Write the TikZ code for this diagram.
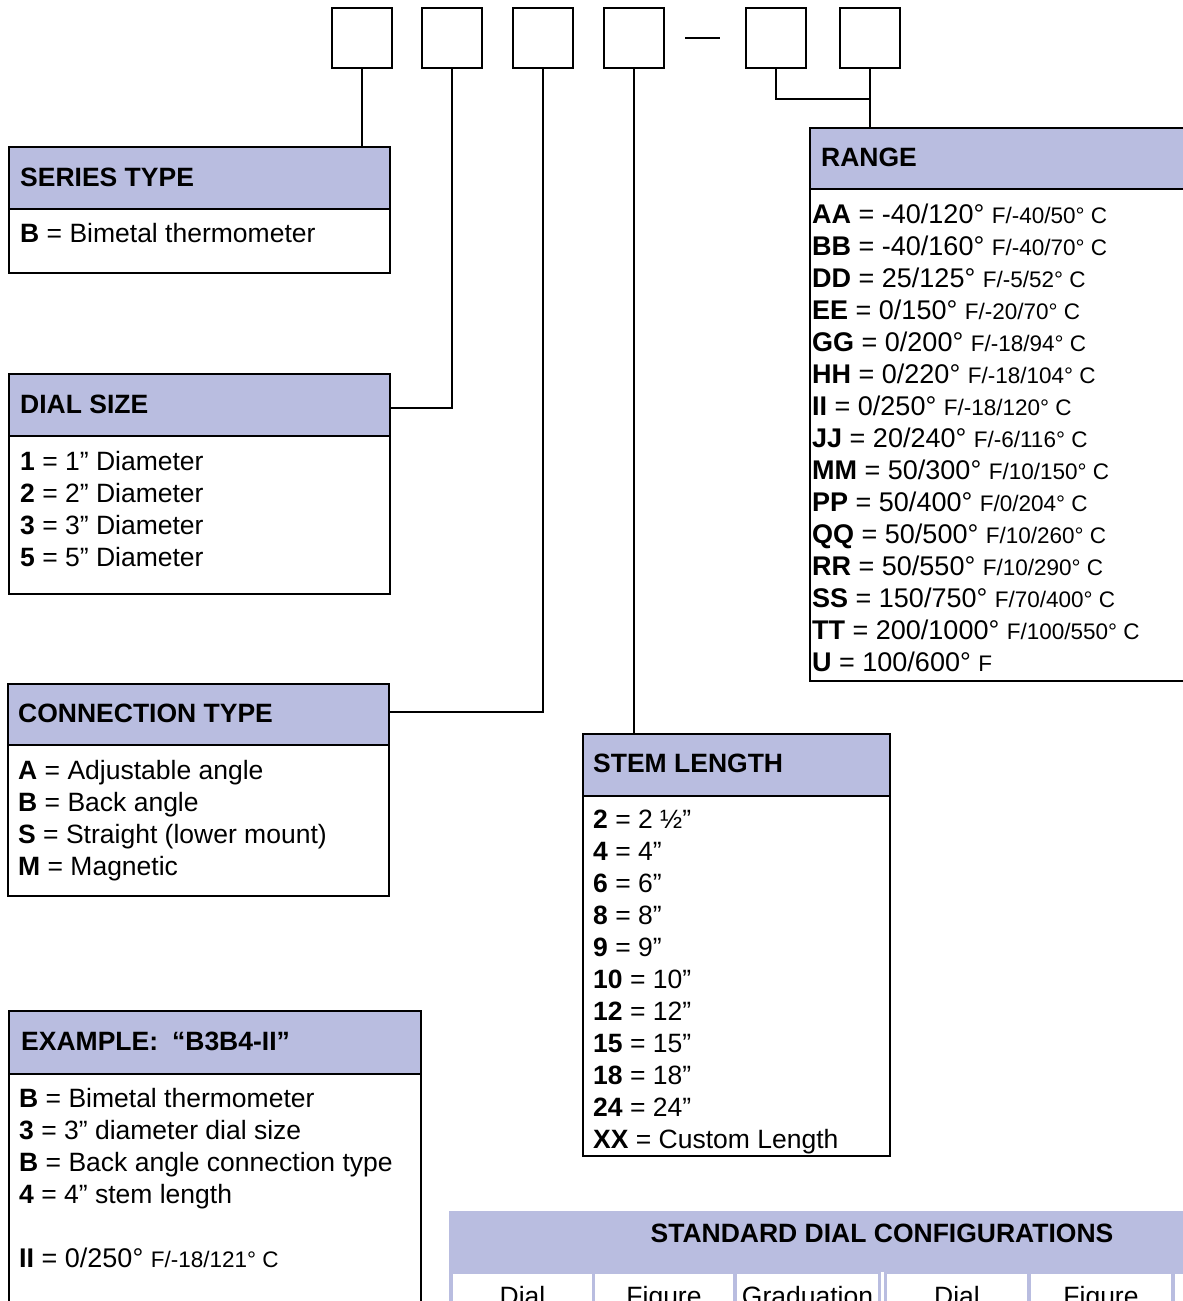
\documentclass[tikz,border=0pt]{standalone}
\usepackage{fontspec}
\setmainfont{Liberation Sans}
\usetikzlibrary{calc}
\definecolor{hdrblue}{RGB}{185,189,224}
\newcommand\rsm[1]{{\fontsize{22.5}{22.5}\selectfont #1}}
\begin{document}
\begin{tikzpicture}[x=1pt,y=-1pt,
  hdr/.style={draw=black, line width=2.4pt, fill=hdrblue, anchor=north west, inner sep=0pt, outer sep=0pt},
  bodybox/.style={draw=black, line width=2.4pt, fill=white, anchor=north west, inner sep=0pt, outer sep=0pt},
  sq/.style={draw=black, line width=2.4pt, minimum width=60pt, minimum height=60pt, inner sep=0pt, outer sep=0pt, anchor=north west},
  cellbox/.style={fill=white, anchor=north west, inner sep=0pt, outer sep=0pt, minimum height=40pt},
  link/.style={draw=black, line width=2pt},
  ttl/.style={anchor=base west, inner sep=0pt, font=\fontsize{26.5}{26.5}\selectfont\bfseries},
  txt/.style={anchor=base west, inner sep=0pt, font=\fontsize{26.5}{26.5}\selectfont},
  rtxt/.style={anchor=base west, inner sep=0pt, font=\fontsize{27}{27}\selectfont},
]
\useasboundingbox (0,0) rectangle (1183,1301);
\clip (0,0) rectangle (1183,1301);

% code squares
\node[sq] (b1) at (332,8) {};
\node[sq] (b2) at (422,8) {};
\node[sq] (b3) at (513,8) {};
\node[sq] (b4) at (604,8) {};
\node[sq] (b5) at (746,8) {};
\node[sq] (b6) at (840,8) {};
\draw[line width=2pt] ($(b4.east)+(21,0)$) -- ($(b5.west)+(-26,0)$);

% SERIES TYPE
\node[bodybox, minimum width=381pt, minimum height=64pt] (stb) at (9,209) {};
\node[hdr, minimum width=381pt, minimum height=62pt] (sth) at (9,147) {};
\node[ttl] (stt) at (20,186) {SERIES TYPE};
\node[txt] (st1) at (20,242) {\textbf{B} = Bimetal thermometer};

% DIAL SIZE
\node[bodybox, minimum width=381pt, minimum height=158pt] (dsb) at (9,436) {};
\node[hdr, minimum width=381pt, minimum height=62pt] (dsh) at (9,374) {};
\node[ttl] (dst) at (20,413) {DIAL SIZE};
\node[txt] (ds1) at (20,470) {\textbf{1} = 1” Diameter};
\node[txt] (ds2) at (20,502) {\textbf{2} = 2” Diameter};
\node[txt] (ds3) at (20,534) {\textbf{3} = 3” Diameter};
\node[txt] (ds4) at (20,566) {\textbf{5} = 5” Diameter};

% CONNECTION TYPE
\node[bodybox, minimum width=381pt, minimum height=151pt] (ctb) at (8,745) {};
\node[hdr, minimum width=381pt, minimum height=61pt] (cth) at (8,684) {};
\node[ttl] (ctt) at (18,722) {CONNECTION TYPE};
\node[txt] (ct1) at (18,779) {\textbf{A} = Adjustable angle};
\node[txt] (ct2) at (18,811) {\textbf{B} = Back angle};
\node[txt] (ct3) at (18,843) {\textbf{S} = Straight (lower mount)};
\node[txt] (ct4) at (18,875) {\textbf{M} = Magnetic};

% EXAMPLE
\node[bodybox, minimum width=412pt, minimum height=260pt] (exb) at (9,1074) {};
\node[hdr, minimum width=412pt, minimum height=63pt] (exh) at (9,1011) {};
\node[ttl] (ext) at (21,1050) {EXAMPLE:\hspace{14pt}“B3B4-II”};
\node[txt] (ex1) at (19,1107) {\textbf{B} = Bimetal thermometer};
\node[txt] (ex2) at (19,1139) {\textbf{3} = 3” diameter dial size};
\node[txt] (ex3) at (19,1171) {\textbf{B} = Back angle connection type};
\node[txt] (ex4) at (19,1203) {\textbf{4} = 4” stem length};
\node[rtxt] (ex5) at (19,1267) {\textbf{II} = 0/250° \rsm{F/-18/121° C}};

% STEM LENGTH
\node[bodybox, minimum width=307pt, minimum height=360pt] (slb) at (583,796) {};
\node[hdr, minimum width=307pt, minimum height=62pt] (slh) at (583,734) {};
\node[ttl] (slt) at (593,772) {STEM LENGTH};
\node[txt] (sl1) at (593,828) {\textbf{2} = 2 ½”};
\node[txt] (sl2) at (593,860) {\textbf{4} = 4”};
\node[txt] (sl3) at (593,892) {\textbf{6} = 6”};
\node[txt] (sl4) at (593,924) {\textbf{8} = 8”};
\node[txt] (sl5) at (593,956) {\textbf{9} = 9”};
\node[txt] (sl6) at (593,988) {\textbf{10} = 10”};
\node[txt] (sl7) at (593,1020) {\textbf{12} = 12”};
\node[txt] (sl8) at (593,1052) {\textbf{15} = 15”};
\node[txt] (sl9) at (593,1084) {\textbf{18} = 18”};
\node[txt] (sl10) at (593,1116) {\textbf{24} = 24”};
\node[txt] (sl11) at (593,1148) {\textbf{XX} = Custom Length};

% RANGE
\node[bodybox, minimum width=400pt, minimum height=492pt] (rgb) at (810,189) {};
\node[hdr, minimum width=400pt, minimum height=61pt] (rgh) at (810,128) {};
\node[ttl] (rgt) at (821,166) {RANGE};
\node[rtxt] (rg1) at (812,223) {\textbf{AA} = -40/120° \rsm{F/-40/50° C}};
\node[rtxt] (rg2) at (812,255) {\textbf{BB} = -40/160° \rsm{F/-40/70° C}};
\node[rtxt] (rg3) at (812,287) {\textbf{DD} = 25/125° \rsm{F/-5/52° C}};
\node[rtxt] (rg4) at (812,319) {\textbf{EE} = 0/150° \rsm{F/-20/70° C}};
\node[rtxt] (rg5) at (812,351) {\textbf{GG} = 0/200° \rsm{F/-18/94° C}};
\node[rtxt] (rg6) at (812,383) {\textbf{HH} = 0/220° \rsm{F/-18/104° C}};
\node[rtxt] (rg7) at (812,415) {\textbf{II} = 0/250° \rsm{F/-18/120° C}};
\node[rtxt] (rg8) at (812,447) {\textbf{JJ} = 20/240° \rsm{F/-6/116° C}};
\node[rtxt] (rg9) at (812,479) {\textbf{MM} = 50/300° \rsm{F/10/150° C}};
\node[rtxt] (rg10) at (812,511) {\textbf{PP} = 50/400° \rsm{F/0/204° C}};
\node[rtxt] (rg11) at (812,543) {\textbf{QQ} = 50/500° \rsm{F/10/260° C}};
\node[rtxt] (rg12) at (812,575) {\textbf{RR} = 50/550° \rsm{F/10/290° C}};
\node[rtxt] (rg13) at (812,607) {\textbf{SS} = 150/750° \rsm{F/70/400° C}};
\node[rtxt] (rg14) at (812,639) {\textbf{TT} = 200/1000° \rsm{F/100/550° C}};
\node[rtxt] (rg15) at (812,671) {\textbf{U} = 100/600° \rsm{F}};

% connectors
\draw[link] (b1.south) -- (b1.south |- sth.north);
\draw[link] (b2.south) |- ($(dsh.east)+(0,3)$);
\draw[link] (b3.south) |- ($(cth.east)+(0,-3)$);
\draw[link] (b4.south) -- (b4.south |- slh.north);
\coordinate (rj) at ($(b6.south)+(0,31)$);
\draw[link] (b5.south) |- (rj);
\draw[link] (b6.south) -- (b6.south |- rgh.north);

% STANDARD DIAL CONFIGURATIONS table
\node[anchor=north west, fill=hdrblue, inner sep=0pt, minimum width=740pt, minimum height=100pt] (tbh) at (449,1211) {};
\node[ttl, anchor=base] (tbt) at (882,1242) {STANDARD DIAL CONFIGURATIONS};
\node[cellbox, minimum width=139pt] (c1) at (453,1274) {};
\node[cellbox, minimum width=138pt] (c2) at (595,1274) {};
\node[cellbox, minimum width=141pt] (c3) at (737,1274) {};
\node[cellbox, minimum width=140pt] (c4) at (887,1274) {};
\node[cellbox, minimum width=140pt] (c5) at (1031,1274) {};
\node[cellbox, minimum width=40pt] (c6) at (1175,1274) {};
\fill[white] (881,1272) rectangle (884,1320);
\node[txt, anchor=base] (c1t) at (522.5,1305) {Dial};
\node[txt, anchor=base] (c2t) at (664,1305) {Figure};
\node[txt, anchor=base] (c3t) at (807.5,1305) {Graduation};
\node[txt, anchor=base] (c4t) at (957,1305) {Dial};
\node[txt, anchor=base] (c5t) at (1101,1305) {Figure};
\end{tikzpicture}
\end{document}
